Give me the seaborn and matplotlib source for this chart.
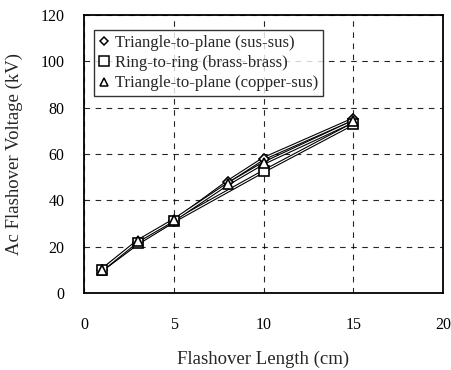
import numpy as np
import pandas as pd
import matplotlib as mpl
mpl.use("Agg")
import matplotlib.pyplot as plt
import matplotlib.patheffects as pe
from matplotlib.lines import Line2D
import seaborn as sns

### DATA ###
labels = ["Triangle-to-plane (sus-sus)", "Ring-to-ring (brass-brass)", "Triangle-to-plane (copper-sus)"]
sus_x = [1, 3, 5, 8, 10, 15]
sus_y = [10, 22, 31, 48, 58, 75]
brass_x = [1, 3, 5, 10, 15]
brass_y = [10, 21.5, 31, 52.5, 73]
copper_x = [1, 3, 5, 8, 10, 15]
copper_y = [10, 22.5, 31.5, 47, 56, 74]
x_ticks = [0, 5, 10, 15, 20]
y_ticks = [0, 20, 40, 60, 80, 100, 120]

markers = ["D", "s", "^"]
msizes = [5, 7, 6.5]

sns.set_style("white")
plt.rcParams["font.family"] = ["Liberation Serif", "DejaVu Serif"]

fig = plt.figure(figsize=(4.52, 3.70), dpi=100)
ax = fig.add_axes([0.186, 0.208, 0.794, 0.752])

series = [(sus_x, sus_y), (brass_x, brass_y), (copper_x, copper_y)]
outline = [pe.Stroke(linewidth=2.4, foreground="black"), pe.Normal()]
for (xs, ys), lab, mk, ms in zip(series, labels, markers, msizes):
    df = pd.DataFrame({"x": xs, "y": ys})
    sns.lineplot(data=df, x="x", y="y", ax=ax, color="white", linewidth=0.8,
                 path_effects=outline, legend=False, zorder=3)
    sns.lineplot(data=df, x="x", y="y", ax=ax, color="black", linewidth=0,
                 marker=mk, markersize=ms, markerfacecolor="white",
                 markeredgecolor="black", markeredgewidth=1.2, legend=False, zorder=4)

ax.set_xlim(0, 20)
ax.set_ylim(0, 120)
ax.set_xticks(x_ticks)
ax.set_yticks(y_ticks)
ax.grid(True, color="black", linestyle=(0, (5, 5)), linewidth=0.8, alpha=0.85)
for s in ax.spines.values():
    s.set_color("black")
    s.set_linewidth(1.3)
ax.tick_params(axis="both", labelsize=11.5, colors="black", length=0)
ax.tick_params(axis="y", pad=14)
ax.tick_params(axis="x", pad=17)
ax.set_xlabel("Flashover Length (cm)", fontsize=13.5, labelpad=13)
ax.set_ylabel("Ac Flashover Voltage (kV)", fontsize=13.5, labelpad=13)

handles = [Line2D([], [], linestyle="none", marker=mk, markersize=ms - 0.5,
                  markerfacecolor="white", markeredgecolor="black", markeredgewidth=1.1)
           for mk, ms in zip(markers, msizes)]
leg = ax.legend(handles, labels, loc="upper left", bbox_to_anchor=(0.028, 0.945),
                fontsize=12, frameon=True, fancybox=False, edgecolor="black",
                handlelength=0.6, handletextpad=0.35, borderpad=0.3, labelspacing=0.25,
                borderaxespad=0)
leg.get_frame().set_linewidth(1.0)
leg.set_zorder(5)

fig.savefig("out.png", dpi=100, facecolor="white")
